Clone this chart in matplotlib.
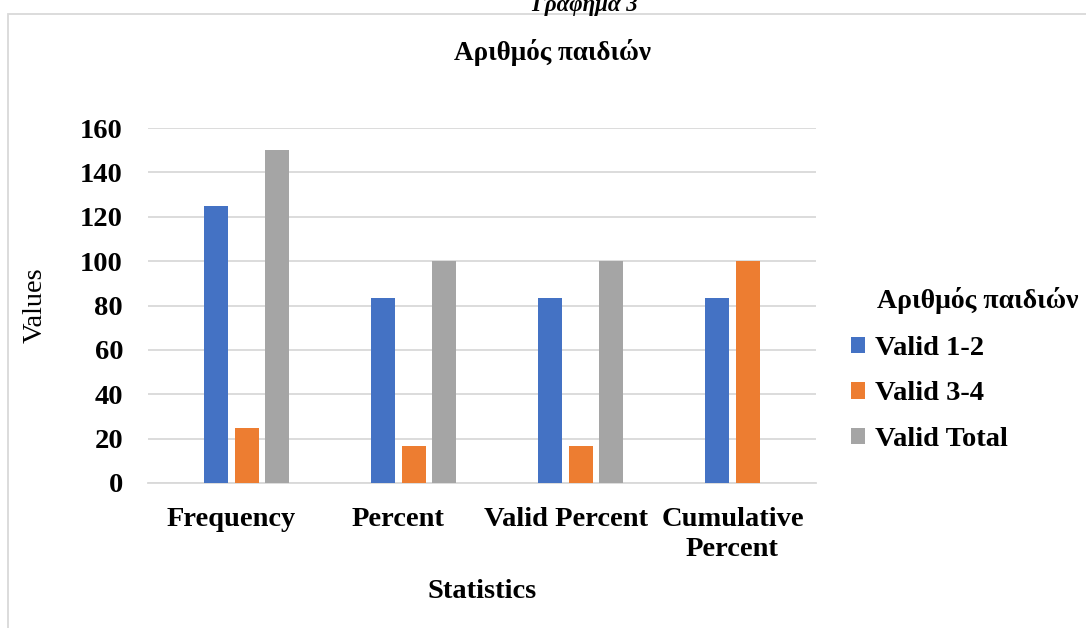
import numpy as np
import matplotlib
matplotlib.use("Agg")
import matplotlib.pyplot as plt
from matplotlib.patches import Patch, Rectangle

plt.rcParams['font.family'] = ['Liberation Serif', 'DejaVu Serif']

# Data
categories = ["Frequency", "Percent", "Valid Percent", "Cumulative\nPercent"]
series_names = ["Valid 1-2", "Valid 3-4", "Valid Total"]
valid_12 = [125, 83.3, 83.3, 83.3]
valid_34 = [25, 16.7, 16.7, 100]
valid_total = [150, 100, 100, np.nan]
colors = ["#4472C4", "#ED7D31", "#A5A5A5"]

W, H = 1086, 628
fig = plt.figure(figsize=(W / 100, H / 100), dpi=100)
ax = fig.add_axes([148 / W, (H - 483) / H, 668 / W, 355 / H])

x = np.arange(len(categories))
width = 0.144
offsets = [-0.09, 0.09, 0.27]
for vals, off, col, name in zip([valid_12, valid_34, valid_total], offsets, colors, series_names):
    ax.bar(x + off, vals, width, color=col, label=name, zorder=3)

ax.set_xlim(-0.5, 3.5)
ax.set_ylim(0, 160)
ax.set_yticks(range(0, 161, 20))
ax.set_xticks(x)
ax.set_xticklabels(categories, fontsize=20.5, fontweight='bold', linespacing=1.3)
for lbl in ax.get_yticklabels():
    lbl.set_fontsize(20.5)
    lbl.set_fontweight('bold')
ax.tick_params(axis='y', length=0, pad=18)
ax.tick_params(axis='x', length=0, pad=17)

ax.grid(axis='y', color='#d9d9d9', linewidth=1.3, zorder=0)
for side in ['top', 'right', 'left']:
    ax.spines[side].set_visible(False)
ax.spines['bottom'].set_color('#d9d9d9')
ax.spines['bottom'].set_linewidth(1.3)

ax.set_ylabel("Values", fontsize=20.5)
ax.yaxis.set_label_coords(-0.15, 0.5)
ax.set_xlabel("Statistics", fontsize=20.5, fontweight='bold', labelpad=12)

# chart title and caption above the frame
fig.text(553 / W, 1 - 52 / H, "Αριθμός παιδιών", ha='center', va='center',
         fontsize=19.5, fontweight='bold')
fig.text(585 / W, 1 - 11 / H, "Γράφημα 3", ha='center', va='baseline',
         fontsize=16.5, fontweight='bold', style='italic')

# chart frame (runs off the right and bottom edges)
fig.patches.append(Rectangle((8 / W, -0.1), 1.2, 1 - 14 / H + 0.1,
                             transform=fig.transFigure, fill=False,
                             edgecolor='#d9d9d9', linewidth=1.3))

# legend
fig.text(877 / W, 1 - 300 / H, "Αριθμός παιδιών", ha='left', va='center',
         fontsize=20, fontweight='bold')
handles = [Patch(facecolor=c, edgecolor='none') for c in colors]
fig.legend(handles, series_names, loc='upper left',
           bbox_to_anchor=(851 / W, 1 - 336 / H),
           frameon=False, prop={'size': 20.5, 'weight': 'bold'},
           handlelength=0.5, handleheight=0.5, handletextpad=0.35,
           labelspacing=0.72, borderpad=0, borderaxespad=0)

fig.savefig("out.png", dpi=100)
